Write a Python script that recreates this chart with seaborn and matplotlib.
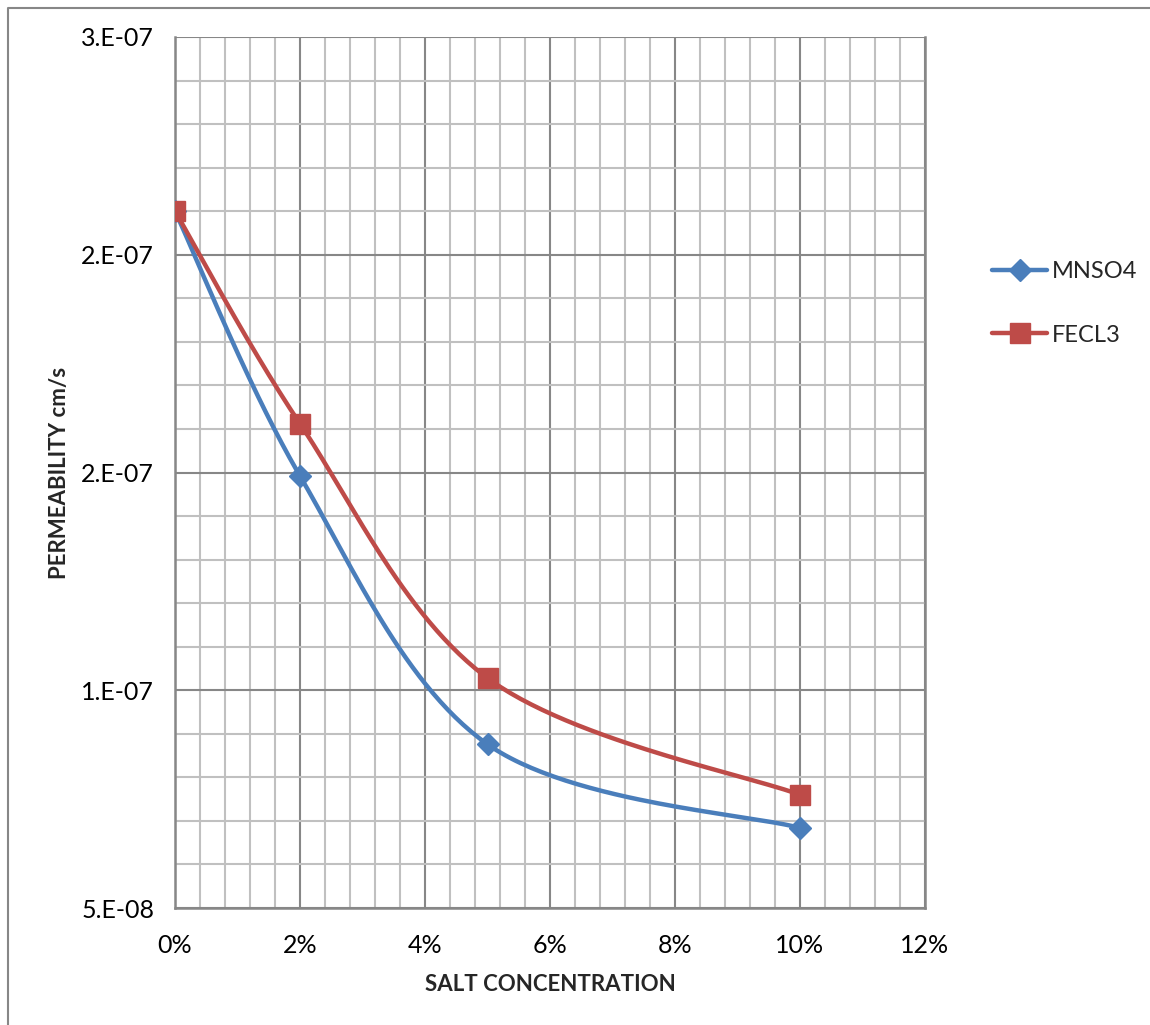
"""
Permeability vs salt concentration (MNSO4 / FECL3), smoothed lines like the Excel chart
"""

import numpy as np
import pandas as pd
import matplotlib
matplotlib.use("Agg")
import matplotlib.pyplot as plt
from matplotlib.lines import Line2D
from matplotlib.ticker import MultipleLocator
import seaborn as sns


# -------------------------
# Data
# -------------------------
concentration = [0.00, 0.02, 0.05, 0.10]
mnso4 = [2.50e-7, 1.74e-7, 9.70e-8, 7.30e-8]
fecl3 = [2.50e-7, 1.89e-7, 1.16e-7, 8.25e-8]

series_names = ["MNSO4", "FECL3"]

x_ticks = [0.00, 0.02, 0.04, 0.06, 0.08, 0.10, 0.12]
x_tick_labels = ["0%", "2%", "4%", "6%", "8%", "10%", "12%"]
y_ticks = [5.0e-8, 1.125e-7, 1.75e-7, 2.375e-7, 3.0e-7]
y_tick_labels = ["5.E-08", "1.E-07", "2.E-07", "2.E-07", "3.E-07"]

BLUE = "#4A7EBB"
RED = "#BE4B48"
MAJOR = "#878787"
MINOR = "#C0C0C0"


# -------------------------
# Smoothing (Excel style bezier through the points)
# -------------------------
def smooth(xs, ys, n=60):
    pts = np.column_stack([xs, ys]).astype(float)
    out = [pts[0]]
    for i in range(len(pts) - 1):
        p0 = pts[max(i - 1, 0)]
        p1 = pts[i]
        p2 = pts[i + 1]
        p3 = pts[min(i + 2, len(pts) - 1)]
        c1 = p1 + (p2 - p0) / 6
        c2 = p2 - (p3 - p1) / 6
        t = np.linspace(0, 1, n)[1:, None]
        seg = ((1 - t) ** 3) * p1 + 3 * ((1 - t) ** 2) * t * c1 \
            + 3 * (1 - t) * t ** 2 * c2 + t ** 3 * p2
        out.extend(seg)
    out = np.array(out)
    return pd.DataFrame({"x": out[:, 0], "y": out[:, 1]})


# -------------------------
# Plot
# -------------------------
sns.set_style("white")
plt.rcParams["font.family"] = ["Lato", "DejaVu Sans"]

fig = plt.figure(figsize=(11.5, 10.25), dpi=100)
ax = fig.add_axes([175 / 1150, 1 - 908 / 1025, 750 / 1150, 871 / 1025])

styles = [
    (mnso4, BLUE, "D", 11.5),
    (fecl3, RED, "s", 14),
]

handles = []
for (vals, color, marker, msize), name in zip(styles, series_names):
    curve = smooth(concentration, vals)
    sns.lineplot(data=curve, x="x", y="y", estimator=None, sort=False,
                 color=color, linewidth=3.2, ax=ax, zorder=3)
    ax.plot(concentration, vals, linestyle="none", marker=marker,
            markersize=msize, color=color, markeredgecolor=color, zorder=4)
    handles.append(Line2D([], [], color=color, linewidth=3.2, marker=marker,
                          markersize=msize, markeredgecolor=color, label=name))

ax.set_xlim(0, 0.12)
ax.set_ylim(5e-8, 3e-7)

ax.set_xticks(x_ticks)
ax.set_xticklabels(x_tick_labels, fontsize=18)
ax.set_yticks(y_ticks)
ax.set_yticklabels(y_tick_labels, fontsize=18)
ax.xaxis.set_minor_locator(MultipleLocator(0.004))
ax.yaxis.set_minor_locator(MultipleLocator(1.25e-8))

ax.grid(which="minor", color=MINOR, linewidth=1.5, zorder=0)
ax.grid(which="major", color=MAJOR, linewidth=1.5, zorder=1)
ax.set_axisbelow(True)

ax.tick_params(which="major", direction="out", length=7, width=1.5,
               color=MAJOR, pad=8, labelcolor="black")
ax.tick_params(which="minor", length=0)
ax.tick_params(axis="x", pad=12)

for side in ["left", "bottom", "right"]:
    ax.spines[side].set_color(MAJOR)
    ax.spines[side].set_linewidth(1.8)
ax.spines["top"].set_visible(False)

ax.set_xlabel("SALT CONCENTRATION", fontsize=16, fontweight="bold", labelpad=12)
ax.set_ylabel("PERMEABILITY cm/s", fontsize=16, fontweight="bold", labelpad=8)

fig.legend(handles=handles, loc="upper left",
           bbox_to_anchor=(992 / 1150, 1 - 261 / 1025),
           frameon=False, fontsize=17, handlelength=2.35, handletextpad=0.2,
           labelspacing=1.8, borderpad=0, borderaxespad=0)

# chart area border (only top and left visible in the reference)
fig.add_artist(Line2D([8 / 1150, 8 / 1150, 1], [0, 1 - 8 / 1025, 1 - 8 / 1025],
                      transform=fig.transFigure, color=MAJOR, linewidth=1.5))

fig.savefig("out.png", dpi=100)
plt.close(fig)
